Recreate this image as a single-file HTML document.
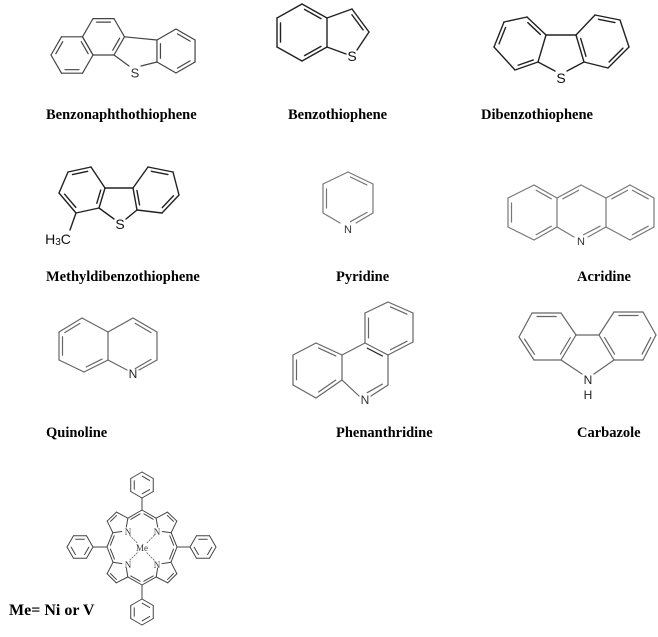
<!DOCTYPE html>
<html><head><meta charset="utf-8"><style>
html,body{margin:0;padding:0;background:#fff;}
svg{display:block;}
.l{font-family:"Liberation Serif",serif;font-weight:bold;font-size:14.5px;fill:#000;}
.a{font-family:"Liberation Sans",sans-serif;font-size:13px;text-anchor:middle;dominant-baseline:central;}
.p{font-family:"Liberation Serif",serif;font-size:9px;text-anchor:middle;dominant-baseline:central;fill:#333;}
</style></head><body>
<svg id="s" width="658" height="637" viewBox="0 0 658 637" xmlns="http://www.w3.org/2000/svg">
<g id="g" fill="none" stroke-linecap="round"></g>
<text class="l" x="46" y="119">Benzonaphthothiophene</text>
<text class="l" x="288" y="119">Benzothiophene</text>
<text class="l" x="481" y="119">Dibenzothiophene</text>
<text class="l" x="46" y="281">Methyldibenzothiophene</text>
<text class="l" x="336" y="281">Pyridine</text>
<text class="l" x="577" y="281">Acridine</text>
<text class="l" x="46" y="437">Quinoline</text>
<text class="l" x="336" y="437">Phenanthridine</text>
<text class="l" x="577" y="437">Carbazole</text>
<text class="l" x="9" y="615" style="font-size:16px">Me= Ni or V</text>
<text class="a" x="135" y="73" fill="#333">S</text>
<text class="a" x="352" y="56" fill="#111" style="font-size:14px">S</text>
<text class="a" x="561" y="78" fill="#111" style="font-size:14px">S</text>
<text class="a" x="120" y="224" fill="#111" style="font-size:14px">S</text>
<text class="a" x="58" y="239" fill="#111" style="font-size:14px">H<tspan style="font-size:10px" dy="3">3</tspan><tspan dy="-3">C</tspan></text>
<text class="a" x="348" y="230" fill="#333" style="font-size:11px">N</text>
<text class="a" x="581" y="242" fill="#333" style="font-size:11px">N</text>
<text class="a" x="133" y="374" fill="#222" style="font-size:12px">N</text>
<text class="a" x="365" y="400" fill="#333" style="font-size:12px">N</text>
<text class="a" x="588" y="380" fill="#222" style="font-size:12px">N</text>
<text class="a" x="588" y="395" fill="#222" style="font-size:12px">H</text>
<text class="p" x="142" y="548">Me</text>
<text class="p" x="128" y="532">N</text>
<text class="p" x="157" y="532">N</text>
<text class="p" x="128" y="565">N</text>
<text class="p" x="157" y="565">N</text>
</svg>
<script>
var g=document.getElementById('g'),NS='http://www.w3.org/2000/svg';
function ln(a,b,c,w,d){var e=document.createElementNS(NS,'line');e.setAttribute('x1',a[0]);e.setAttribute('y1',a[1]);e.setAttribute('x2',b[0]);e.setAttribute('y2',b[1]);e.setAttribute('stroke',c||'#333');e.setAttribute('stroke-width',w||1.2);if(d)e.setAttribute('stroke-dasharray',d);g.appendChild(e);}
function cen(p){var x=0,y=0;p.forEach(function(q){x+=q[0];y+=q[1]});return [x/p.length,y/p.length];}
function inner(a,b,c,col,w,o){o=o||3.5;var m=[(a[0]+b[0])/2,(a[1]+b[1])/2];var dx=c[0]-m[0],dy=c[1]-m[1],L=Math.hypot(dx,dy);dx=dx/L*o;dy=dy/L*o;var t=0.17;
var a2=[a[0]+(b[0]-a[0])*t+dx,a[1]+(b[1]-a[1])*t+dy],b2=[b[0]+(a[0]-b[0])*t+dx,b[1]+(a[1]-b[1])*t+dy];ln(a2,b2,col,w);}
function ring(p,dbl,col,w,skip){var c=cen(p);skip=skip||{};for(var i=0;i<p.length;i++){var a=p[i],b=p[(i+1)%p.length];if(!skip[i])ln(a,b,col,w);}
(dbl||[]).forEach(function(i){inner(p[i],p[(i+1)%p.length],c,col,w)});}
function trim(a,b,t){return [a[0]+(b[0]-a[0])*t,a[1]+(b[1]-a[1])*t];}
function hex(cx,cy,r,rot){var p=[];for(var k=0;k<6;k++){var an=(rot+60*k)*Math.PI/180;p.push([cx+r*Math.cos(an),cy+r*Math.sin(an)]);}return p;}
var D='#222',G='#666',L='#777';
// 1 Benzonaphthothiophene
var r1=hex(72,55,21,0),r2=hex(72+31.5,55-18.19,21,0);ring(r1,[1,3,5],'#444');ring(r2,[4],'#444');
var r3=hex(176,51,22,30);ring(r3,[0,2,4],'#444');
ln(r2[0],r3[3],'#444');inner(r2[0],r2[1],cen(r2),'#444');
ln(r2[1],[129,66],'#444');ln(r3[2],[141,66],'#444');
// 2 Benzothiophene
var b=[[302,4],[327,18],[327,47],[302,61],[277,47],[277,18]];ring(b,[0,2,4],D,1.4);
ln([327,18],[352,9],D,1.4);ln([352,9],[369,32],D,1.4);inner([352,9],[369,32],[345,30],D,1.4);ln([369,32],[357,50],D,1.4);ln([327,47],[346,54],D,1.4);
// 3 Dibenzothiophene
var d1=[[494,47],[504,22],[527,17],[546,35],[538,62],[515,70]],d2=[[576,35],[595,15],[620,20],[629,47],[608,68],[584,62]];
ring(d1,[0,2,4],D,1.4);ring(d2,[1,3,5],D,1.4);ln([546,35],[576,35],D,1.4);ln([538,62],[555,71],D,1.4);ln([584,62],[567,71],D,1.4);
// 4 Methyl DBT
var m1=[[59,193],[68,172],[91,167],[105,188],[99,208],[76,213]],m2=[[133,188],[148,167],[173,172],[179,195],[162,213],[137,210]];
ring(m1,[1,3,5],D,1.4);ring(m2,[1,3,5],D,1.4);ln([105,188],[133,188],D,1.4);ln([99,208],[114,219],D,1.4);ln([137,210],[126,219],D,1.4);ln([76,213],[70,230],D,1.4);
// 5 Pyridine
var py=[[348,172],[373,184],[373,213],[356,223],[340,223],[323,213],[323,184]];
ln(py[0],py[1],L);ln(py[1],py[2],L);ln(py[2],py[3],L);ln(py[4],py[5],L);ln(py[5],py[6],L);ln(py[6],py[0],L);
var pc=[348,198];inner([348,172],[373,184],pc,L);inner([373,213],[348,227],pc,L);inner([323,213],[323,184],pc,L);
// 6 Acridine
var a1=[[534,185],[557,198],[557,227],[534,240],[508,227],[508,198]];ring(a1,[0,2,4],L);
ln([557,198],[581,185],L);ln([581,185],[606,198],L);inner([557,198],[581,185],[581,212],L);
ln([557,227],[574,237],L);ln([606,227],[588,237],L);inner([606,227],[581,240],[581,212],L);
var a3=[[630,185],[654,198],[654,227],[630,240],[606,227],[606,198]];ring(a3,[0,2,5],L);
// 7 Quinoline
var q1=[[82,318],[108,332],[108,360],[84,372],[59,360],[59,332]];ring(q1,[2,4,5],G);
ln([108,332],[133,318],G);ln([133,318],[157,332],G);inner([133,318],[157,332],[132,346],G);ln([157,332],[157,360],G);ln([157,360],[139,370],G);ln([108,360],[127,370],G);inner([157,360],[133,374],[132,346],G);
// 8 Phenanthridine
var f1=[[316,343],[342,355],[342,380],[316,398],[293,385],[293,355]];ring(f1,[0,2,4],G);
var f2=[[388,302],[413,313],[413,342],[388,355],[365,343],[365,313]];ring(f2,[0,2,4],G);
ln([342,355],[365,343],G);ln([388,355],[388,385],G);ln([388,385],[371,396],G);ln([342,380],[359,396],G);inner([388,385],[365,398],[365,370],G);
inner([365,343],[388,355],[365,370],'#222');
// 9 Carbazole
var c1=[[532,313],[561,313],[576,335],[561,360],[534,360],[519,337]];ring(c1,[0,2,4],G);
var c2=[[614,312],[643,312],[656,335],[643,360],[614,360],[599,335]];ring(c2,[0,2,4],G);
ln([576,335],[599,335],G);ln([561,360],[582,374],G);ln([614,360],[594,374],G);
// 10 Porphyrin
var C='#444',W=1;
var ph=[[142,485,13,90],[80,547,13,0],[203,547,13,0],[142,612,13,90]];
ph.forEach(function(h){var p=hex(h[0],h[1],h[2],h[3]==90?30:0);ring(p,[0,2,4],C,W);});
var meso=[[142,510],[107,547],[177,547],[142,585]];
ln([142,498],meso[0],C,W);ln([93,547],meso[1],C,W);ln([190,547],meso[2],C,W);ln([142,599],meso[3],C,W);
var M=[142,548];
var pc2=[[118,523],[166,523],[118,572],[166,572]];
var alphas=[];
pc2.forEach(function(c,idx){var dir=Math.atan2(M[1]-c[1],M[0]-c[0]);var p=[];for(var k=0;k<5;k++){var an=dir+k*2*Math.PI/5;p.push([c[0]+11*Math.cos(an),c[1]+11*Math.sin(an)]);}
ln(trim(p[1],p[0],0),trim(p[1],p[0],0.7),C,W);ln(trim(p[4],p[0],0),trim(p[4],p[0],0.7),C,W);
ln(p[1],p[2],C,W);ln(p[2],p[3],C,W);ln(p[3],p[4],C,W);inner(p[2],p[3],c,C,W,2.5);
ln(trim(p[0],M,0.25),trim(p[0],M,0.75),'#666',0.8,'1.5,1.5');
alphas.push(p);});
function near(pt,list){var best=null,bd=1e9;list.forEach(function(q){var d=Math.hypot(q[0]-pt[0],q[1]-pt[1]);if(d<bd){bd=d;best=q}});return best;}
function join(m,ia,ib){var A=alphas[ia],B=alphas[ib];var pa=near(m,[A[1],A[4]]),pb=near(m,[B[1],B[4]]);ln(pa,m,C,W);ln(m,pb,C,W);inner(pa,m,M,C,W,2.5);inner(m,pb,M,C,W,2.5);}
join(meso[0],0,1);join(meso[1],0,2);join(meso[2],1,3);join(meso[3],2,3);
</script>
</body></html>
